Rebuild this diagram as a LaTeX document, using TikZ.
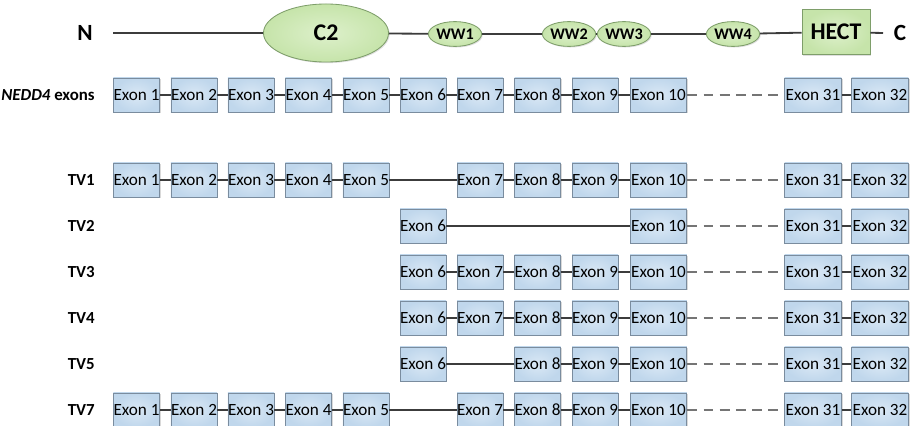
\documentclass[tikz,border=0pt]{standalone}
\usepackage{fontspec}
\setmainfont{Carlito}
\definecolor{exonlight}{HTML}{DAE8F5}
\definecolor{exondark}{HTML}{C0D7EC}
\definecolor{exonedge}{HTML}{7A8C9E}
\definecolor{domlight}{HTML}{DDF0CB}
\definecolor{domdark}{HTML}{C6E4AA}
\definecolor{domedge}{HTML}{7E9E6A}
\definecolor{linkgray}{HTML}{3C3C3C}
\definecolor{gapgray}{HTML}{757575}
\usepackage{tikz}
\usetikzlibrary{shapes.geometric, shadows}

\begin{document}
\begin{tikzpicture}[x=0.025cm, y=-0.025cm,
  exon/.style={draw=exonedge, shade, inner color=exonlight, outer color=exondark,
    line width=0.6pt, inner sep=0pt,
    minimum width=1.15cm, minimum height=0.85cm,
    font=\fontsize{12.2}{14}\selectfont,
    drop shadow={shadow xshift=0.8pt, shadow yshift=-0.8pt, opacity=0.3}},
  wideexon/.style={exon, minimum width=1.42cm},
  dombox/.style={draw=domedge, shade, inner color=domlight, outer color=domdark,
    line width=0.6pt, inner sep=0pt,
    drop shadow={shadow xshift=0.8pt, shadow yshift=-0.8pt, opacity=0.25}},
  ww/.style={dombox, ellipse, minimum width=1.33cm, minimum height=0.62cm,
    font=\fontsize{11.5}{12}\selectfont\bfseries},
  rowlabel/.style={anchor=east, inner sep=0pt, font=\fontsize{12}{14}\selectfont\bfseries},
  endlabel/.style={inner sep=0pt, font=\fontsize{16.5}{18}\selectfont\bfseries},
  link/.style={draw=linkgray, line width=1.3pt},
  gap/.style={draw=gapgray, line width=1pt, dash pattern=on 7pt off 4.5pt}]
  \useasboundingbox (0,0) rectangle (913,426);

  % protein domains
  \node[endlabel] (nterm) at (85,33) {N};
  \node[endlabel] (cterm) at (900,33) {C};
  \coordinate (pstart) at (113,33);
  \coordinate (pend) at (883,33);
  \node[dombox, ellipse, minimum width=3.125cm, minimum height=1.45cm,
    font=\fontsize{17}{18}\selectfont\bfseries] (c2) at (326,33) {C2};
  \foreach \i/\x in {1/455, 2/569, 3/624, 4/733}
    \node[ww] (ww\i) at (\x,34) {WW\i};
  \node[dombox, minimum width=1.7cm, minimum height=1.125cm,
    font=\fontsize{17}{18}\selectfont\bfseries] (hect) at (836,32) {HECT};
  \draw[link] (pstart) -- (c2) -- (ww1) -- (ww2) -- (ww3) -- (ww4) -- (hect) -- (pend);

  % exon rows
  \foreach \row/\y/\txt/\list in {
    nedd/95/{\textit{NEDD4} exons}/{1,2,3,4,5,6,7,8,9,10,31,32},
    tv1/180/TV1/{1,2,3,4,5,7,8,9,10,31,32},
    tv2/226/TV2/{6,10,31,32},
    tv3/272/TV3/{6,7,8,9,10,31,32},
    tv4/318/TV4/{6,7,8,9,10,31,32},
    tv5/364/TV5/{6,8,9,10,31,32},
    tv7/410/TV7/{1,2,3,4,5,7,8,9,10,31,32}} {
    \node[rowlabel] (\row-lab) at (95,\y) {\txt};
    \foreach \e [remember=\e as \prev (initially 0)] in \list {
      \pgfmathtruncatemacro{\idx}{\e<11 ? \e-1 : \e-21}
      \pgfmathsetmacro{\ex}{{136.5,194,251,308.5,366,423,480,537.5,595,658.5,813,880}[\idx]}
      \ifnum\e>9
        \node[wideexon] (\row-e\e) at (\ex,\y) {Exon \e};
      \else
        \node[exon] (\row-e\e) at (\ex,\y) {Exon \e};
      \fi
      \ifnum\prev>0
        \ifnum\e=31
          \draw[gap] (\row-e\prev) -- (\row-e\e);
        \else
          \draw[link] (\row-e\prev) -- (\row-e\e);
        \fi
      \fi
    }
  }
\end{tikzpicture}
\end{document}
